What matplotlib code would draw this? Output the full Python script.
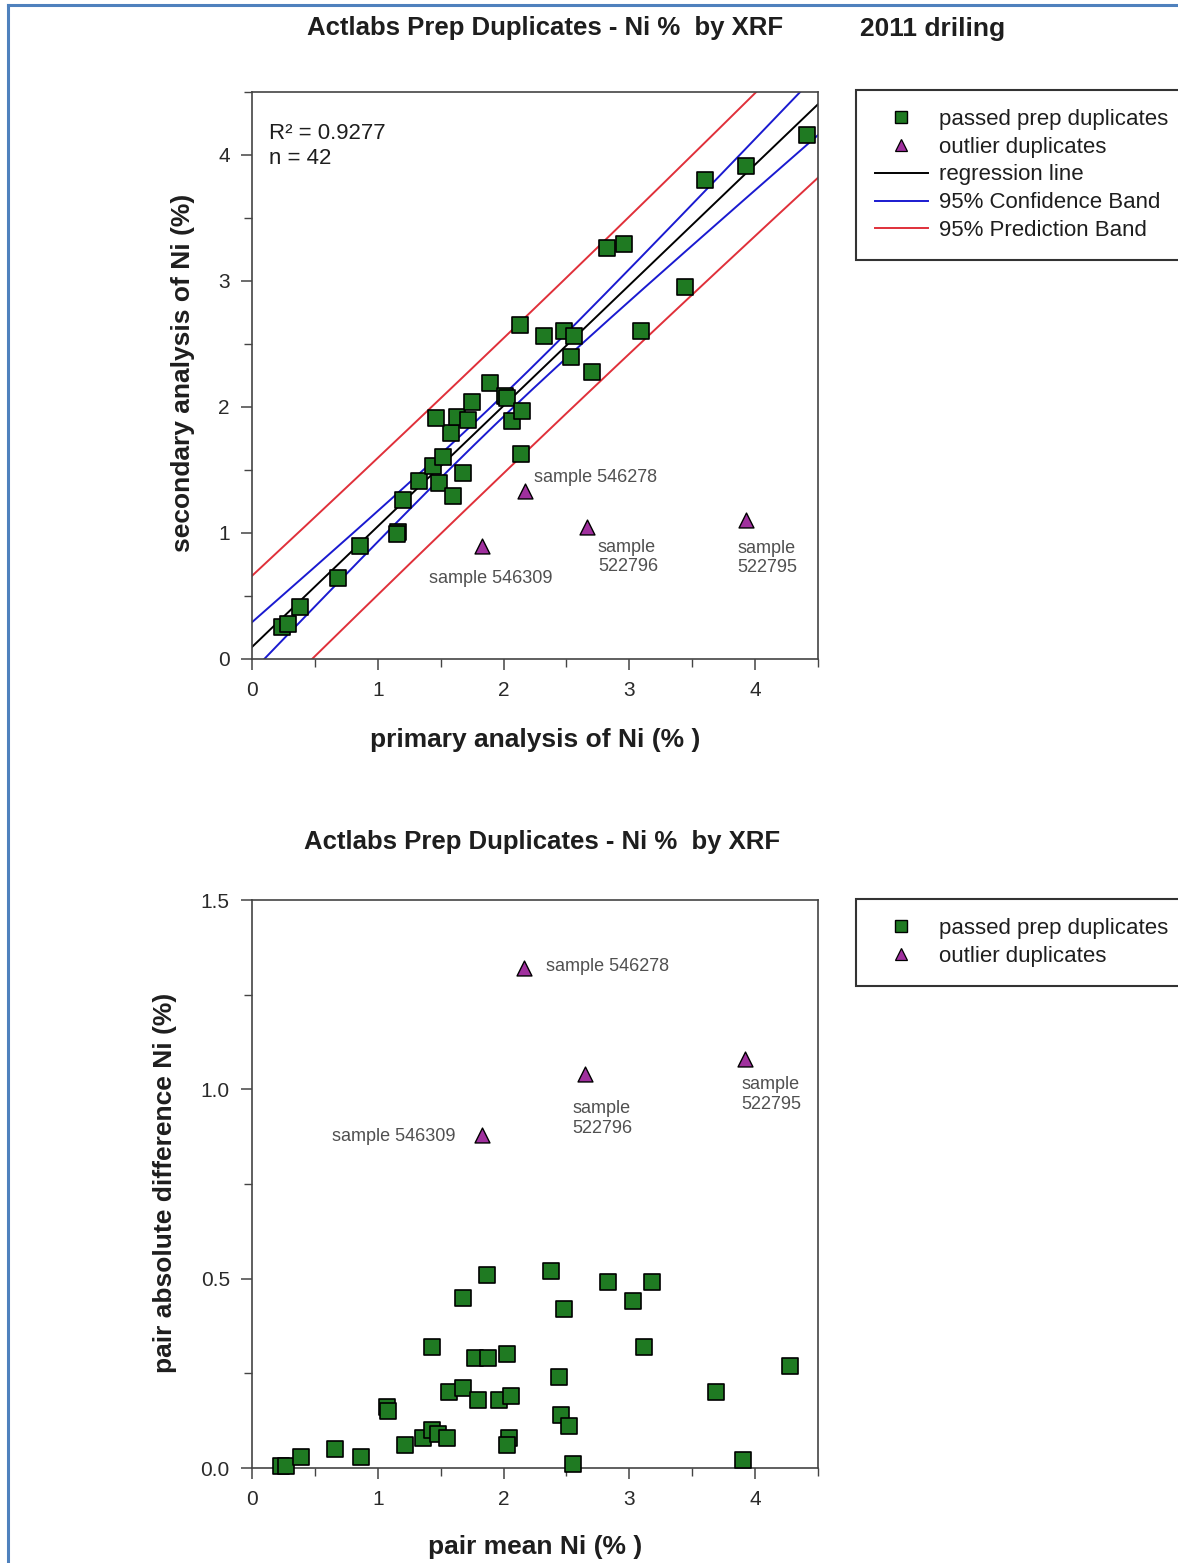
import numpy as np
import matplotlib
matplotlib.use("Agg")
import matplotlib.pyplot as plt
from matplotlib.lines import Line2D
from matplotlib.ticker import MultipleLocator, FormatStrFormatter

plt.rcParams['font.family'] = ['Liberation Sans', 'DejaVu Sans']

# passed prep duplicates (primary, secondary), Ni %
primary = [0.24, 0.29, 0.38, 0.68, 0.86, 1.16, 1.15, 1.20, 1.33, 1.44, 1.52, 1.49, 1.60,
           1.68, 1.58, 1.46, 1.63, 1.72, 1.75, 1.89, 2.01, 2.03, 2.07, 2.15, 2.14, 2.13,
           2.32, 2.48, 2.56, 2.54, 2.70, 2.82, 2.96, 3.09, 3.44, 3.60, 3.93, 4.41]
secondary = [0.25, 0.28, 0.41, 0.64, 0.90, 1.01, 0.99, 1.26, 1.41, 1.53, 1.60, 1.40, 1.29,
             1.48, 1.79, 1.91, 1.92, 1.90, 2.04, 2.19, 2.09, 2.07, 1.89, 1.97, 1.63, 2.65,
             2.56, 2.60, 2.56, 2.40, 2.28, 3.26, 3.29, 2.60, 2.95, 3.80, 3.91, 4.16]

# outliers (primary, secondary)
out_primary = [1.83, 2.17, 2.66, 3.93]
out_secondary = [0.90, 1.33, 1.05, 1.10]

# pair mean vs absolute difference
pair_mean = [0.23, 0.27, 0.39, 0.66, 0.87, 1.07, 1.08, 1.22, 1.36, 1.43, 1.43, 1.48, 1.55,
             1.57, 1.68, 1.68, 1.77, 1.80, 1.88, 1.87, 1.96, 2.03, 2.06, 2.04, 2.03, 2.38,
             2.44, 2.46, 2.48, 2.52, 2.55, 2.83, 3.03, 3.12, 3.18, 3.69, 3.90, 4.28]
pair_diff = [0.005, 0.005, 0.03, 0.05, 0.03, 0.16, 0.15, 0.06, 0.08, 0.10, 0.32, 0.09, 0.08,
             0.20, 0.21, 0.45, 0.29, 0.18, 0.29, 0.51, 0.18, 0.30, 0.19, 0.08, 0.06, 0.52,
             0.24, 0.14, 0.42, 0.11, 0.01, 0.49, 0.44, 0.32, 0.49, 0.20, 0.02, 0.27]

out_mean = [1.83, 2.16, 2.65, 3.92]
out_diff = [0.88, 1.32, 1.04, 1.08]

r2_text = "R² = 0.9277"
n_text = "n = 42"
t_val = 2.03

GREEN = '#1f7a22'
PURPLE = '#a0309e'
LABEL_GRAY = '#505050'
TXT = '#1e1e1e'

fig = plt.figure(figsize=(11.78, 15.63), dpi=100)
W, H = 1178, 1563


def box(l, t, r, b):
    return [l / W, 1 - b / H, (r - l) / W, (b - t) / H]


def style(ax):
    for s in ax.spines.values():
        s.set_color('#444444')
        s.set_linewidth(1.2)
    ax.tick_params(which='both', direction='out', color='#444444', labelsize=15,
                   labelcolor='#2a2a2a', pad=8)
    ax.tick_params(which='major', length=8, width=1.1)
    ax.tick_params(which='minor', length=6, width=1.0)


# ---------- top plot ----------
ax1 = fig.add_axes(box(252, 92, 818, 659))
style(ax1)

x = np.array(primary)
y = np.array(secondary)
n = len(x)
slope, inter = np.polyfit(x, y, 1)
resid = y - (inter + slope * x)
s = np.sqrt(np.sum(resid ** 2) / (n - 2))
sxx = np.sum((x - x.mean()) ** 2)
xs = np.linspace(0, 4.5, 200)
fit = inter + slope * xs
ci = t_val * s * np.sqrt(1 / n + (xs - x.mean()) ** 2 / sxx)
pi = t_val * s * np.sqrt(1 + 1 / n + (xs - x.mean()) ** 2 / sxx)

ax1.plot(xs, fit, color='black', lw=1.4, zorder=2)
ax1.plot(xs, fit + ci, color='#1a1ad0', lw=1.4, zorder=2)
ax1.plot(xs, fit - ci, color='#1a1ad0', lw=1.4, zorder=2)
ax1.plot(xs, fit + pi, color='#e0303a', lw=1.4, zorder=2)
ax1.plot(xs, fit - pi, color='#e0303a', lw=1.4, zorder=2)

ax1.scatter(primary, secondary, marker='s', s=125, c=GREEN, edgecolors='black',
            linewidths=1.2, zorder=3)
ax1.scatter(out_primary, out_secondary, marker='^', s=115, c=PURPLE, edgecolors='black',
            linewidths=1.0, zorder=3)

ax1.set_xlim(0, 4.5)
ax1.set_ylim(0, 4.5)
ax1.xaxis.set_major_locator(MultipleLocator(1))
ax1.xaxis.set_minor_locator(MultipleLocator(0.5))
ax1.yaxis.set_major_locator(MultipleLocator(1))
ax1.yaxis.set_minor_locator(MultipleLocator(0.5))

ax1.text(0.03, 0.926, r2_text, transform=ax1.transAxes, fontsize=16, va='center',
         color=TXT)
ax1.text(0.03, 0.882, n_text, transform=ax1.transAxes, fontsize=16, va='center',
         color=TXT)

lab = dict(fontsize=13, color=LABEL_GRAY, linespacing=1.2)
ax1.text(2.24, 1.44, "sample 546278", ha='left', va='center', **lab)
ax1.text(1.41, 0.64, "sample 546309", ha='left', va='center', **lab)
ax1.text(2.75, 0.81, "sample\n522796", ha='left', va='center', **lab)
ax1.text(3.86, 0.80, "sample\n522795", ha='left', va='center', **lab)

handles1 = [
    Line2D([], [], marker='s', ls='none', ms=8, mfc=GREEN, mec='black', mew=1.0),
    Line2D([], [], marker='^', ls='none', ms=8, mfc=PURPLE, mec='black', mew=0.9),
    Line2D([], [], color='black', lw=1.4),
    Line2D([], [], color='#1a1ad0', lw=1.4),
    Line2D([], [], color='#e0303a', lw=1.4),
]
labels1 = ["passed prep duplicates", "outlier duplicates", "regression line",
           "95% Confidence Band", "95% Prediction Band"]
leg_kw = dict(loc='upper left', fontsize=16, frameon=True, fancybox=False,
              edgecolor='black', handlelength=2.4, handletextpad=0.5, labelspacing=0.31,
              borderpad=0.85, borderaxespad=0)
leg1 = ax1.legend(handles1, labels1, bbox_to_anchor=(1.067, 1.004), **leg_kw)
leg1.get_frame().set_linewidth(1.5)
for t in leg1.get_texts():
    t.set_color(TXT)

# ---------- bottom plot ----------
ax2 = fig.add_axes(box(252, 900, 818, 1468))
style(ax2)
ax2.scatter(pair_mean, pair_diff, marker='s', s=125, c=GREEN, edgecolors='black',
            linewidths=1.2, zorder=3, clip_on=False)
ax2.scatter(out_mean, out_diff, marker='^', s=115, c=PURPLE, edgecolors='black',
            linewidths=1.0, zorder=3)
ax2.set_xlim(0, 4.5)
ax2.set_ylim(0, 1.5)
ax2.xaxis.set_major_locator(MultipleLocator(1))
ax2.xaxis.set_minor_locator(MultipleLocator(0.5))
ax2.yaxis.set_major_locator(MultipleLocator(0.5))
ax2.yaxis.set_minor_locator(MultipleLocator(0.25))
ax2.yaxis.set_major_formatter(FormatStrFormatter('%.1f'))

ax2.text(2.34, 1.325, "sample 546278", ha='left', va='center', **lab)
ax2.text(1.62, 0.876, "sample 546309", ha='right', va='center', **lab)
ax2.text(2.55, 0.923, "sample\n522796", ha='left', va='center', **lab)
ax2.text(3.89, 0.987, "sample\n522795", ha='left', va='center', **lab)

leg2 = ax2.legend(handles1[:2], labels1[:2], bbox_to_anchor=(1.067, 1.002), **leg_kw)
leg2.get_frame().set_linewidth(1.5)
for t in leg2.get_texts():
    t.set_color(TXT)

# ---------- titles and axis labels ----------
bold = dict(fontweight='bold', color=TXT, ha='center', va='center')
fig.text(545 / W, 1 - 28 / H, "Actlabs Prep Duplicates - Ni %  by XRF", fontsize=18.5,
         **bold)
fig.text(933 / W, 1 - 29 / H, "2011 driling", fontsize=19, **bold)
fig.text(542 / W, 1 - 842 / H, "Actlabs Prep Duplicates - Ni %  by XRF", fontsize=18.5,
         **bold)

fig.text(183 / W, 1 - 373 / H, "secondary analysis of Ni (%)", rotation=90,
         fontsize=19, **bold)
fig.text(535 / W, 1 - 740 / H, "primary analysis of Ni (% )", fontsize=19, **bold)
fig.text(165 / W, 1 - 1183 / H, "pair absolute difference Ni (%)", rotation=90,
         fontsize=19, **bold)
fig.text(535 / W, 1 - 1547 / H, "pair mean Ni (% )", fontsize=19, **bold)

# page border (top and left)
fig.add_artist(Line2D([8 / W, 1], [1 - 5 / H, 1 - 5 / H], color='#4f81bd', lw=2.2))
fig.add_artist(Line2D([8 / W, 8 / W], [0, 1 - 5 / H], color='#4f81bd', lw=2.2))

fig.savefig("out.png", dpi=100)
